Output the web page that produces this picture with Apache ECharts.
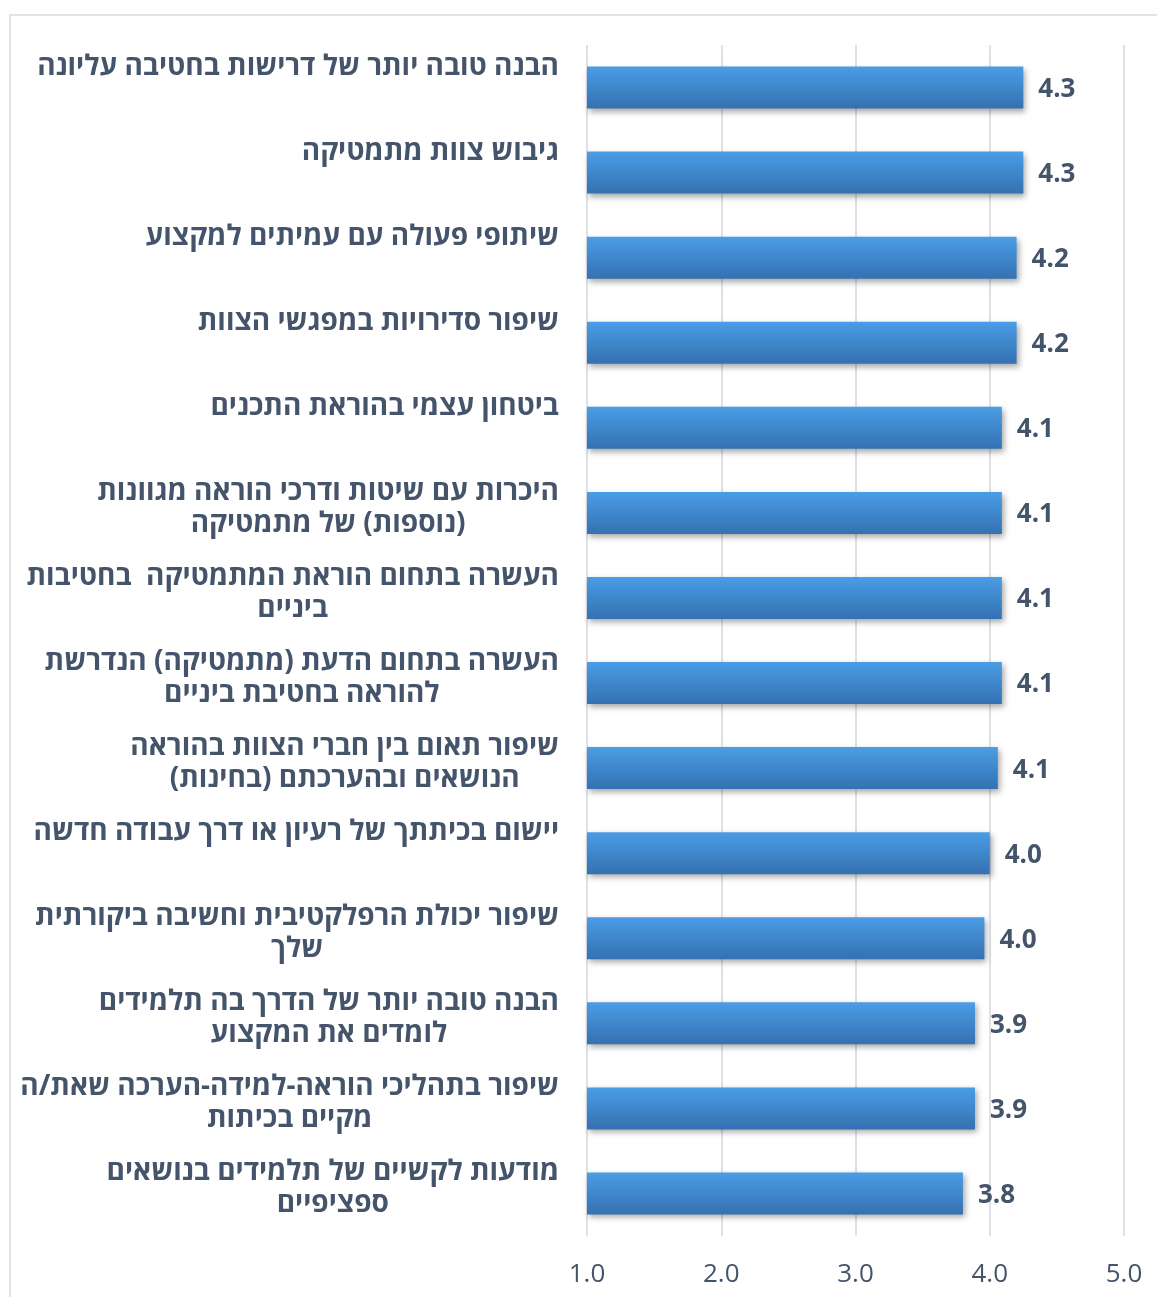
<!DOCTYPE html>
<html>
<head>
<meta charset="utf-8">
<script src="https://cdn.jsdelivr.net/npm/echarts@6/dist/echarts.min.js"></script>
<style>
  html, body { margin: 0; padding: 0; background: #fff; }
  #main { width: 1157px; height: 1297px; }
</style>
</head>
<body>
<div id="main" dir="rtl"></div>
<script>
// קטגוריות (מלמעלה למטה)
const categories = [
  'הבנה טובה יותר של דרישות בחטיבה עליונה',
  'גיבוש צוות מתמטיקה',
  'שיתופי פעולה עם עמיתים למקצוע',
  'שיפור סדירויות במפגשי הצוות',
  'ביטחון עצמי בהוראת התכנים',
  'היכרות עם שיטות ודרכי הוראה מגוונות\n(נוספות) של מתמטיקה',
  'העשרה בתחום הוראת המתמטיקה  בחטיבות\nביניים',
  'העשרה בתחום הדעת (מתמטיקה) הנדרשת\nלהוראה בחטיבת ביניים',
  'שיפור תאום בין חברי הצוות בהוראה\nהנושאים ובהערכתם (בחינות)',
  'יישום בכיתתך של רעיון או דרך עבודה חדשה',
  'שיפור יכולת הרפלקטיבית וחשיבה ביקורתית\nשלך',
  'הבנה טובה יותר של הדרך בה תלמידים\nלומדים את המקצוע',
  'שיפור בתהליכי הוראה-למידה-הערכה שאת/ה\nמקיים בכיתות',
  'מודעות לקשיים של תלמידים בנושאים\nספציפיים'
];
// ממוצעים
const values = [4.25, 4.25, 4.20, 4.20, 4.09, 4.09, 4.09, 4.09, 4.06, 4.00, 3.96, 3.89, 3.89, 3.80];
// ציר X
const xMin = 1, xMax = 5, xStep = 1;

const textColor = '#44546a';
const font = "'Open Sans', 'DejaVu Sans', sans-serif";

const chart = echarts.init(document.getElementById('main'));
chart.setOption({
  backgroundColor: '#ffffff',
  animation: false,
  graphic: [{
    type: 'rect',
    shape: { x: 10, y: 15, width: 1170, height: 1310 },
    style: { fill: 'none', stroke: '#dfe3ea', lineWidth: 2 },
    z: -1
  }],
  grid: { left: 587, right: 33, top: 45, bottom: 61 },
  xAxis: {
    type: 'value',
    min: xMin, max: xMax, interval: xStep,
    axisLine: { show: false },
    axisTick: { show: false },
    splitLine: { lineStyle: { color: '#dde1e8', width: 2 } },
    axisLabel: {
      color: textColor, fontSize: 26, fontFamily: font, margin: 26,
      formatter: v => v.toFixed(1)
    }
  },
  yAxis: {
    type: 'category',
    inverse: true,
    data: categories,
    axisLine: { show: false },
    axisTick: { show: false },
    splitLine: { show: false },
    axisLabel: {
      color: textColor, fontSize: 28, fontWeight: 'bold', fontFamily: font,
      margin: 28, lineHeight: 32,
      align: 'right', verticalAlign: 'top',
      padding: [-37, 0, 0, 0],
      formatter: s => s.split('\n').map(l => '{c|' + l + '}').join('\n'),
      rich: { c: { align: 'center', color: textColor, fontSize: 28, fontWeight: 'bold', fontFamily: font, lineHeight: 32 } }
    }
  },
  series: [{
    type: 'bar',
    data: values,
    barWidth: 42,
    itemStyle: {
      color: new echarts.graphic.LinearGradient(0, 0, 0, 1, [
        { offset: 0, color: '#4a9de6' },
        { offset: 1, color: '#3471b1' }
      ]),
      shadowColor: 'rgba(0,0,0,0.35)',
      shadowBlur: 6,
      shadowOffsetX: 2,
      shadowOffsetY: 3
    },
    label: {
      show: true,
      position: 'right',
      distance: 15,
      offset: [0, 2],
      color: textColor,
      fontSize: 26,
      fontWeight: 'bold',
      fontFamily: font,
      formatter: p => p.value.toFixed(1)
    }
  }]
});
</script>
</body>
</html>
